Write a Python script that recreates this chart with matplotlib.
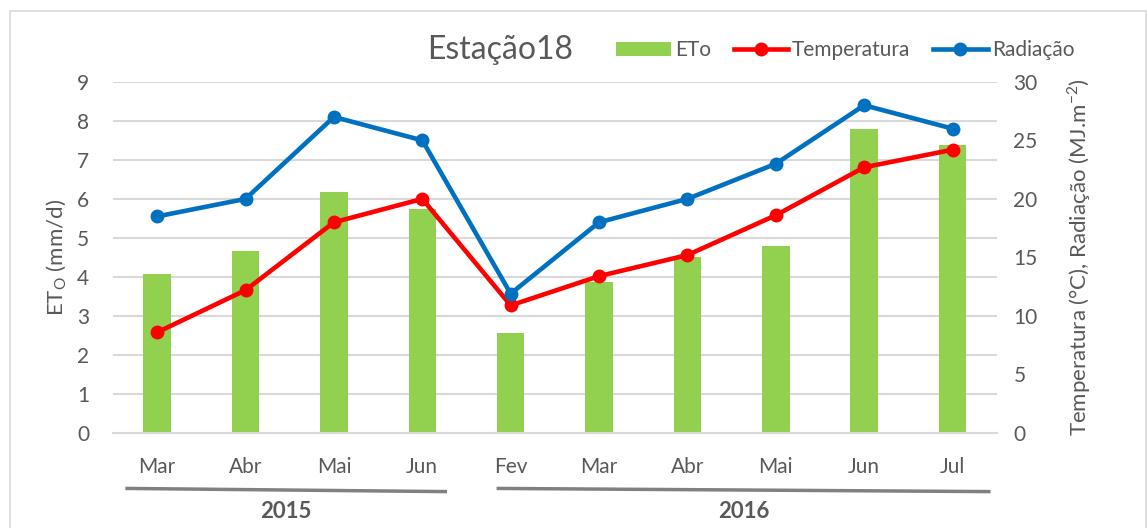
import matplotlib.pyplot as plt
from matplotlib.lines import Line2D
from matplotlib.patches import Rectangle
import matplotlib.transforms as mtransforms

plt.rcParams['font.family'] = ['Lato', 'DejaVu Sans']

# Data
months = ['Mar', 'Abr', 'Mai', 'Jun', 'Fev', 'Mar', 'Abr', 'Mai', 'Jun', 'Jul']
years = ['2015', '2016']
year_spans = [(-0.34, 3.26), (3.86, 9.41)]
eto = [4.08, 4.66, 6.18, 5.73, 2.56, 3.86, 4.52, 4.79, 7.80, 7.39]
temperatura = [8.6, 12.2, 18.0, 20.0, 10.9, 13.4, 15.2, 18.6, 22.7, 24.2]
radiacao = [18.5, 20.0, 27.0, 25.0, 11.9, 18.0, 20.0, 23.0, 28.0, 26.0]

txt = '#595959'
green = '#92D050'
red = '#FF0000'
blue = '#0070C0'
grid = '#D9D9D9'

fig = plt.figure(figsize=(11.47, 5.28), dpi=100)
ax = fig.add_axes([0.0985, 0.18, 0.7705, 0.665])
ax2 = ax.twinx()

x = list(range(len(months)))

# Bars on the left axis
ax.bar(x, eto, width=0.31, color=green, zorder=2, label='ETo')
ax.set_ylim(0, 9)
ax.set_yticks(range(0, 10))
ax.set_xlim(-0.5, len(months) - 0.5)
ax.yaxis.grid(True, color=grid, linewidth=1.5, zorder=0)
ax.set_axisbelow(True)

# Lines on the right axis
ax2.plot(x, temperatura, color=red, lw=3.3, marker='o', ms=9, label='Temperatura', zorder=3)
ax2.plot(x, radiacao, color=blue, lw=3.3, marker='o', ms=9, label='Radiação', zorder=3)
ax2.set_ylim(0, 30)
ax2.set_yticks(range(0, 31, 5))

for a in (ax, ax2):
    for s in a.spines.values():
        s.set_visible(False)
    a.tick_params(length=0, labelsize=15, labelcolor=txt)
ax.spines['bottom'].set_visible(True)
ax.spines['bottom'].set_color(grid)
ax.spines['bottom'].set_linewidth(1.5)

ax.set_xticks(x)
ax.set_xticklabels(months)
ax.tick_params(axis='x', pad=17)
ax.tick_params(axis='y', pad=17)
ax2.tick_params(axis='y', pad=12)

ax.set_ylabel('ET$_\\mathregular{O}$ (mm/d)', fontsize=16, color=txt, labelpad=6)
ax2.set_ylabel('Temperatura (°C), Radiação (MJ.m$^{\\mathregular{-2}}$)', fontsize=16,
               color=txt, labelpad=20)

# Year grouping lines and labels below the month labels
trans = mtransforms.blended_transform_factory(ax.transData, ax.transAxes)
for yr, (a0, a1) in zip(years, year_spans):
    ax.add_line(Line2D([a0, a1], [-0.158, -0.167], transform=trans,
                       color='#808080', lw=2.5, clip_on=False))
    ax.text((a0 + a1) / 2, -0.225, yr, transform=trans, ha='center',
            va='center', fontsize=16, fontweight='bold', color=txt)

# Title and legend
fig.text(0.436, 0.905, 'Estação18', fontsize=23, color=txt, ha='center', va='center')
h1, l1 = ax.get_legend_handles_labels()
h2, l2 = ax2.get_legend_handles_labels()
fig.legend(h1 + h2, l1 + l2, loc='center', bbox_to_anchor=(0.737, 0.905), ncol=3,
           frameon=False, fontsize=15, labelcolor=txt, handlelength=2.6,
           handletextpad=0.2, columnspacing=1.1)

# Outer chart border
fig.patches.append(Rectangle((0.009, -0.01), 0.99, 0.99, transform=fig.transFigure,
                             fill=False, edgecolor='#D9D9D9', lw=1.2))

fig.savefig('out.png', dpi=100)
